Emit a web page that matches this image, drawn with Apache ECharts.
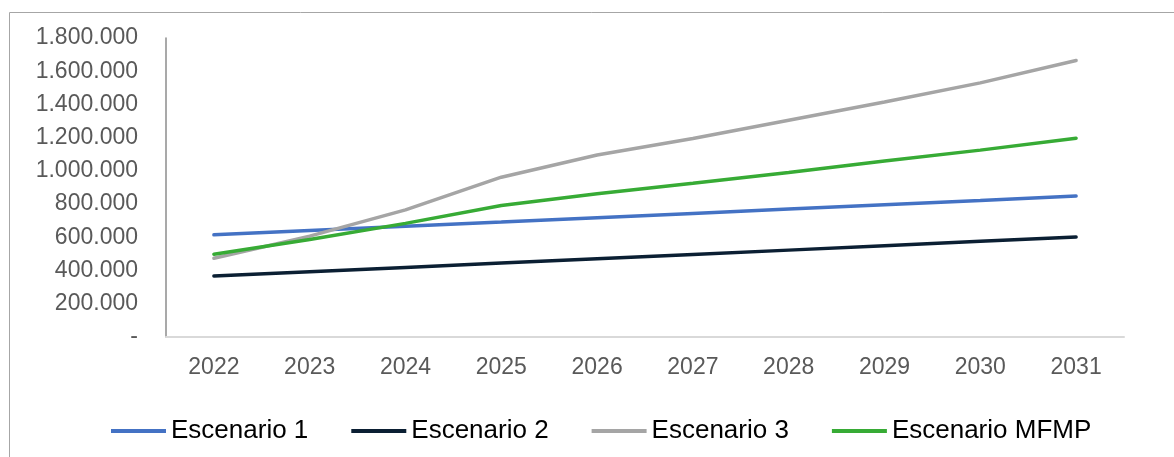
<!DOCTYPE html>
<html>
<head>
<meta charset="utf-8">
<script src="https://cdn.jsdelivr.net/npm/echarts@6/dist/echarts.min.js"></script>
<style>
html,body{margin:0;padding:0;background:#fff;}
#chart{width:1174px;height:457px;}
</style>
</head>
<body>
<div id="chart"></div>
<script>
const years = ['2022','2023','2024','2025','2026','2027','2028','2029','2030','2031'];
const escenario1 = [615000, 641000, 667000, 692000, 718000, 744000, 770000, 796000, 822000, 849000];
const escenario2 = [367000, 393000, 419000, 445000, 471000, 497000, 523000, 549000, 576000, 602000];
const escenario3 = [474000, 607000, 765000, 962000, 1096000, 1195000, 1305000, 1415000, 1530000, 1665000];
const escenarioMFMP = [498000, 587000, 684000, 792000, 863000, 925000, 990000, 1060000, 1125000, 1196000];
const seriesNames = ['Escenario 1', 'Escenario 2', 'Escenario 3', 'Escenario MFMP'];
const seriesColors = ['#4472C4', '#0B1F33', '#A5A5A5', '#37AB35'];

function fmt(v) {
  if (v === 0) return '-';
  return String(v).replace(/\B(?=(\d{3})+(?!\d))/g, '.');
}

const chart = echarts.init(document.getElementById('chart'), null, {renderer: 'canvas'});
const dataSets = [escenario1, escenario2, escenario3, escenarioMFMP];
chart.setOption({
  animation: false,
  backgroundColor: '#fff',
  textStyle: {fontFamily: 'Liberation Sans, Arial, sans-serif'},
  graphic: [
    {type: 'line', shape: {x1: 9.5, y1: 12.5, x2: 1174, y2: 12.5}, style: {stroke: '#a6a6a6', lineWidth: 1}},
    {type: 'line', shape: {x1: 9.5, y1: 12.5, x2: 9.5, y2: 457}, style: {stroke: '#a6a6a6', lineWidth: 1}}
  ],
  grid: {left: 166, right: 50, top: 38, bottom: 120, containLabel: false},
  legend: {
    data: seriesNames,
    left: 106,
    top: 413,
    icon: 'rect',
    itemWidth: 55,
    itemHeight: 4,
    itemGap: 43,
    textStyle: {color: '#000', fontSize: 26, fontFamily: 'Liberation Sans, Arial, sans-serif'}
  },
  xAxis: {
    type: 'category',
    data: years,
    boundaryGap: true,
    axisLine: {show: true, lineStyle: {color: '#d9d9d9', width: 2}},
    axisTick: {show: false},
    axisLabel: {color: '#595959', fontSize: 23, margin: 19, fontFamily: 'Liberation Sans, Arial, sans-serif'},
    splitLine: {show: false}
  },
  yAxis: {
    type: 'value',
    min: 0,
    max: 1800000,
    interval: 200000,
    axisLine: {show: true, lineStyle: {color: '#8c8c8c', width: 1.5}},
    axisTick: {show: false},
    splitLine: {show: false},
    axisLabel: {color: '#595959', fontSize: 23, margin: 28, formatter: fmt, fontFamily: 'Liberation Sans, Arial, sans-serif'}
  },
  series: seriesNames.map((n, i) => ({
    name: n,
    type: 'line',
    data: dataSets[i],
    showSymbol: false,
    symbol: 'none',
    lineStyle: {color: seriesColors[i], width: 3.5, cap: 'round'},
    itemStyle: {color: seriesColors[i]}
  }))
});
</script>
</body>
</html>
